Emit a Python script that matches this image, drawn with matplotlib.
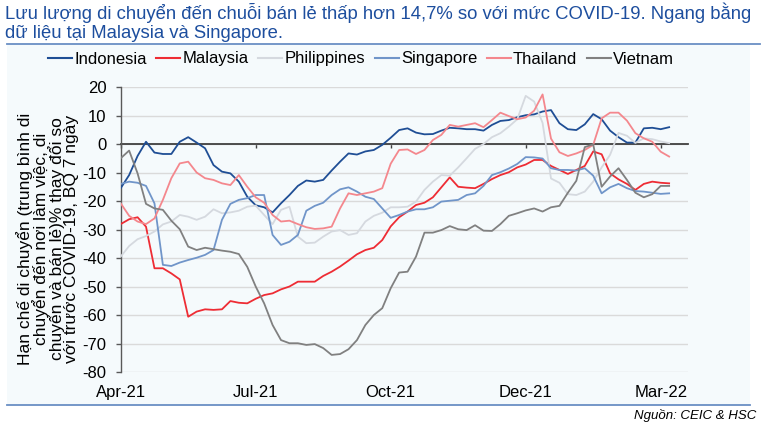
import matplotlib
matplotlib.use("Agg")
import matplotlib.pyplot as plt
from matplotlib.lines import Line2D
from matplotlib.patches import Rectangle

plt.rcParams['font.family'] = ['Liberation Sans', 'DejaVu Sans']
plt.rcParams['axes.unicode_minus'] = False

# ---------------- data (sampled 16 points per x-tick interval) ----------------
tick_labels = ["Apr-21", "Jul-21", "Oct-21", "Dec-21", "Mar-22"]
samples_per_tick = 16

indonesia = [-15.4, -10.8, -4.1, 0.9, -2.9, -3.4, -3.4, 0.9, 2.5, 0.6, -1.4, -7.3, -9.6, -10.2, -13.1, -18.4,
             -21.4, -22.1, -23.9, -20.7, -17.8, -14.6, -12.7, -13.1, -12.5, -9.2, -6.1, -3.2, -3.6, -2.5, -2.0, -0.2,
             2.3, 5.0, 5.6, 4.1, 3.5, 3.6, 4.8, 5.8, 5.6, 5.3, 5.3, 4.8, 6.8, 8.2, 8.5, 9.5,
             10.2, 10.5, 11.5, 12.0, 7.4, 5.3, 5.0, 7.0, 10.6, 8.8, 4.8, 2.5, 0.6, 0.6, 5.6, 5.8,
             5.3, 6.0]
malaysia = [-28.0, -26.3, -25.6, -28.9, -43.5, -43.5, -45.3, -47.4, -60.5, -58.7, -57.9, -58.1, -57.9, -55.0, -55.6, -55.8,
            -54.2, -52.9, -52.3, -50.9, -49.9, -48.2, -48.2, -48.2, -46.2, -44.7, -42.9, -40.8, -38.6, -37.1, -36.3, -33.6,
            -28.8, -25.6, -23.6, -21.3, -20.5, -18.6, -15.1, -11.6, -14.9, -15.2, -15.4, -13.9, -12.2, -10.8, -9.8, -8.1,
            -7.1, -5.5, -5.5, -7.6, -9.0, -10.4, -9.0, -7.6, -2.5, -3.5, -10.2, -12.3, -13.9, -16.0, -13.9, -13.1,
            -13.5, -13.7]
philippines = [-39.4, -35.7, -33.3, -32.2, -30.6, -28.1, -27.1, -24.8, -25.4, -26.5, -25.4, -22.8, -24.2, -23.9, -23.3, -21.9,
               -21.5, -24.8, -28.0, -23.0, -21.9, -32.4, -34.7, -34.5, -32.4, -30.6, -30.1, -31.8, -31.2, -27.1, -25.1, -24.0,
               -22.1, -22.1, -21.9, -20.1, -16.0, -13.1, -10.8, -11.0, -8.1, -4.9, -1.6, 0.1, 2.5, 3.9, 6.2, 8.8,
               17.0, 15.0, 7.5, -12.0, -13.5, -17.5, -17.8, -16.6, -13.1, -8.1, -3.7, 4.0, 3.0, 0.5, 2.1, 1.8,
               1.0, 0.4]
singapore = [-13.9, -13.1, -13.5, -14.6, -20.7, -42.3, -42.7, -41.5, -40.6, -39.8, -38.8, -37.1, -26.5, -20.9, -19.5, -18.9,
             -17.8, -17.8, -31.8, -35.3, -34.2, -31.8, -23.3, -21.6, -20.5, -17.8, -15.8, -15.1, -16.6, -18.4, -19.2, -22.5,
             -25.8, -24.8, -23.6, -22.8, -22.8, -22.1, -20.1, -19.8, -19.5, -17.8, -17.2, -14.6, -10.8, -9.8, -8.5, -6.9,
             -4.5, -4.6, -5.0, -8.4, -9.0, -9.0, -9.2, -8.4, -11.0, -17.2, -15.1, -13.9, -15.4, -16.4, -16.6, -17.0,
             -17.4, -17.2]
thailand = [-20.7, -25.1, -27.1, -28.0, -26.0, -19.5, -11.9, -6.7, -6.1, -9.9, -11.9, -12.5, -13.7, -14.3, -10.8, -14.9,
            -18.6, -20.5, -24.8, -27.1, -26.8, -28.0, -29.1, -29.7, -29.5, -28.9, -22.5, -17.2, -17.8, -17.2, -16.6, -15.4,
            -6.8, -2.0, -1.8, -3.4, -2.0, 1.5, 3.3, 6.8, 6.2, 6.8, 7.4, 6.0, 8.5, 11.1, 9.9, 8.8,
            9.4, 11.8, 17.5, 2.0, -2.8, -4.1, -3.2, -2.0, -0.2, 9.1, 11.1, 11.1, 8.3, 3.9, 2.1, 0.9,
            -2.6, -4.3]
vietnam = [-4.9, -2.2, -10.2, -20.9, -22.5, -23.0, -26.8, -29.8, -35.9, -37.1, -36.3, -36.8, -37.3, -37.7, -38.5, -43.0,
           -49.9, -55.8, -63.4, -68.7, -69.8, -69.8, -70.4, -70.1, -71.5, -73.9, -73.6, -71.9, -68.7, -63.4, -59.9, -57.5,
           -50.5, -45.0, -44.7, -39.4, -31.0, -31.0, -30.1, -28.7, -29.8, -30.1, -28.4, -30.3, -30.4, -28.0, -25.1, -24.2,
           -23.2, -22.5, -23.6, -22.1, -21.6, -17.0, -12.8, -1.0, 0.0, -14.9, -11.3, -8.4, -12.5, -17.0, -18.6, -17.5,
           -14.6, -14.6]

series_names = ["Indonesia", "Malaysia", "Philippines", "Singapore", "Thailand", "Vietnam"]
series_values = [indonesia, malaysia, philippines, singapore, thailand, vietnam]
series_colors = ["#1F4E95", "#EE2C34", "#D5D9DF", "#7095C9", "#F4878D", "#808080"]

title_lines = ["Lưu lượng di chuyển đến chuỗi bán lẻ thấp hơn 14,7% so với mức COVID-19. Ngang bằng",
               "dữ liệu tại Malaysia và Singapore."]
ylabel_text = ("Hạn chế di chuyển (trung bình di\nchuyển đến nơi làm việc, di\n"
               "chuyển và bán lẻ)% thay đổi so\nvới trước COVID-19, BQ 7 ngày")
source_text = "Nguồn: CEIC & HSC"
y_ticks = list(range(-80, 21, 10))

# ---------------- figure ----------------
W, H = 762, 433
fig = plt.figure(figsize=(W / 100, H / 100), dpi=100)
fig.patch.set_facecolor("white")

def fx(px):
    return px / W

def fy(py):
    return 1 - py / H

# chart background tint + frame lines
bg = Rectangle((fx(7), fy(405)), fx(750) - fx(7), fy(43.5) - fy(405),
               transform=fig.transFigure, facecolor="#F5FAFC", edgecolor="none", zorder=-10)
fig.add_artist(bg)
fig.add_artist(Line2D([fx(7), fx(760)], [fy(43.5), fy(43.5)], color="#6A8FC4", lw=1.3))
fig.add_artist(Line2D([fx(7), fx(750)], [fy(405), fy(405)], color="#6A8FC4", lw=1.3))

# title
fig.text(fx(5), fy(13), title_lines[0], fontsize=13.3, color="#1D4E9E", ha="left", va="center")
fig.text(fx(5), fy(33), title_lines[1], fontsize=13.3, color="#1D4E9E", ha="left", va="center")

# axes
left, right, top, bottom = 120.7, 688, 87.3, 372.3
ax = fig.add_axes([fx(left), fy(bottom), fx(right) - fx(left), fy(top) - fy(bottom)])
ax.set_facecolor("none")
ax.set_zorder(1)

n = len(indonesia)
xs = [i / samples_per_tick for i in range(n)]
for name, vals, col in zip(series_names, series_values, series_colors):
    ax.plot(xs, vals, color=col, lw=1.3, label=name, solid_joinstyle="round", zorder=3)

ax.set_ylim(-80, 20)
ax.set_xlim(0, (right - left) / 135.0)
ax.set_yticks(y_ticks)
ax.set_yticklabels([str(v) for v in y_ticks])
ax.grid(axis="y", color="#DADADA", lw=1.0)
ax.set_axisbelow(True)
for s in ["top", "right"]:
    ax.spines[s].set_visible(False)
ax.spines["left"].set_color("#595959")
ax.spines["left"].set_linewidth(1.0)
ax.spines["bottom"].set_position(("data", 0))
ax.spines["bottom"].set_color("#404040")
ax.spines["bottom"].set_linewidth(1.3)
ax.spines["bottom"].set_zorder(2)
ax.tick_params(axis="y", direction="out", length=3.6, width=1.0, color="#595959",
               pad=6.5, labelsize=12, labelcolor="black")
tick_pos = list(range(len(tick_labels)))
ax.set_xticks(tick_pos)
ax.tick_params(axis="x", direction="out", length=3, width=1.0, color="#404040", labelbottom=False)
for p, lab in zip(tick_pos, tick_labels):
    ax.text(p, -0.07, lab, transform=ax.get_xaxis_transform(), ha="center", va="center", fontsize=12)

# y label
fig.text(fx(47.5), fy(239), ylabel_text, rotation=90, ha="center", va="center",
         multialignment="center", fontsize=12.5, linespacing=0.95)

# legend
handles = [Line2D([0], [0], color=c, lw=1.5) for c in series_colors]
fig.legend(handles, series_names, loc="center left", bbox_to_anchor=(fx(48), fy(59)),
           ncol=6, frameon=False, fontsize=12, handlelength=1.45, handletextpad=0.12,
           columnspacing=0.58, borderpad=0, borderaxespad=0)

# source
fig.text(fx(756), fy(415), source_text, ha="right", va="center", fontsize=9.5, style="italic")

fig.savefig("out.png", dpi=100)
